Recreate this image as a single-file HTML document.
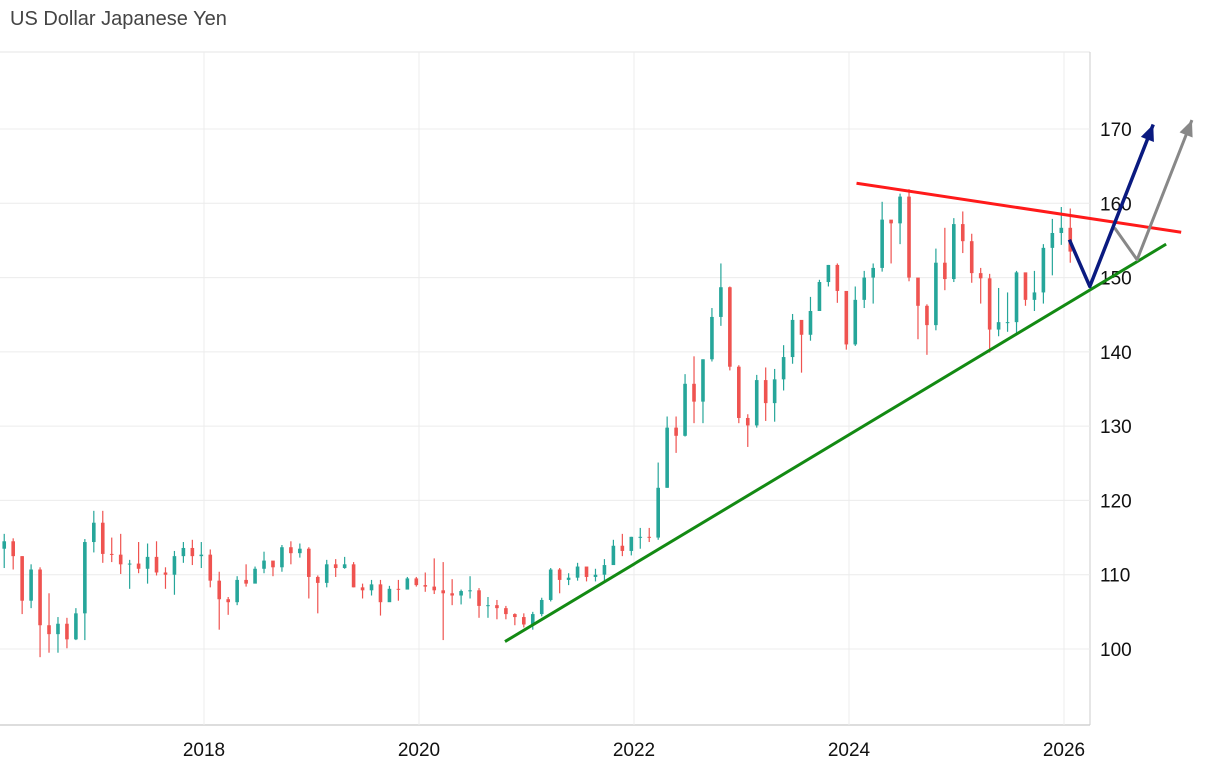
<!DOCTYPE html>
<html><head><meta charset="utf-8">
<style>
body{margin:0;background:#fff;font-family:"Liberation Sans",sans-serif;}
#title{position:absolute;left:10px;top:8px;font-size:20px;color:#444;}
svg{position:absolute;left:0;top:0;}
</style></head>
<body>
<div id="title">US Dollar Japanese Yen</div>
<svg id="chart" width="1220" height="772"></svg>
<script>
const startYear = 2016.1;
const closes = [
114.5,112.5,106.5,110.7,103.2,102.0,103.4,101.3,104.8,114.4,117.0,
112.8,112.7,111.4,111.5,110.8,112.4,110.3,110.0,112.5,113.6,112.5,112.7,
109.2,106.7,106.3,109.3,108.8,110.8,111.9,111.0,113.7,112.9,113.5,109.7,
108.9,111.4,110.9,111.4,108.3,107.9,108.7,106.3,108.1,108.0,109.5,108.6,
108.4,107.9,107.5,107.2,107.8,107.9,105.8,105.9,105.5,104.7,104.3,103.3,
104.7,106.6,110.7,109.3,109.6,111.1,109.7,110.0,111.3,113.9,113.2,115.1,
115.1,115.0,121.7,129.8,128.7,135.7,133.3,139.0,144.7,148.7,138.0,131.1,
130.1,136.2,133.1,136.3,139.3,144.3,142.3,145.5,149.4,151.7,148.2,141.0,
147.0,150.0,151.3,157.8,157.3,160.9,150.0,146.2,143.6,152.0,149.8,157.2,
154.9,150.6,149.9,143.0,144.0,144.0,150.7,147.0,148.0,154.0,156.0,156.7,
153.5];
const highs = [
115.5,114.9,112.5,111.4,111.0,107.5,104.3,104.2,105.5,114.8,118.6,
118.6,115.0,115.5,112.0,114.4,114.2,114.5,111.0,113.2,114.4,114.7,114.4,
113.4,110.4,107.0,109.8,111.4,111.1,113.1,111.8,114.0,114.5,114.2,113.7,
109.9,112.0,112.1,112.4,111.7,108.8,109.3,109.3,108.5,109.3,109.7,109.7,
110.3,112.2,111.7,109.4,108.0,109.8,108.2,107.0,106.6,105.8,104.8,104.8,
105.0,106.9,110.9,110.9,110.2,111.6,110.6,110.8,112.1,114.7,115.5,115.1,
116.3,116.3,125.1,131.3,131.3,137.0,139.4,139.0,145.9,151.9,148.8,138.2,
131.6,136.9,137.9,137.7,140.9,145.1,143.0,147.4,149.7,151.7,151.9,148.0,
148.8,150.9,151.9,160.2,157.7,161.3,161.9,149.4,146.4,153.9,156.7,158.0,
158.9,155.9,151.3,150.5,148.6,148.0,150.9,148.8,150.9,154.5,157.9,159.5,
159.3];
const lows = [
110.9,110.7,104.7,105.5,98.9,99.5,99.5,100.1,101.2,101.2,113.0,
111.6,111.7,110.1,108.1,110.2,108.8,109.9,108.1,107.3,111.6,111.3,110.9,
108.3,102.6,104.6,105.9,108.4,109.3,110.2,109.8,110.4,111.4,112.3,106.8,
104.8,108.3,109.7,110.8,108.3,106.8,107.2,104.5,106.5,106.5,108.3,108.4,
107.7,107.4,101.2,105.9,106.0,106.8,104.2,104.2,104.0,104.0,103.2,102.9,
102.6,104.4,106.4,107.5,108.6,109.2,109.1,109.1,109.1,111.4,112.5,112.6,
113.5,114.4,114.7,121.7,126.4,128.6,130.4,130.4,138.7,143.5,137.5,130.4,
127.2,129.8,130.7,130.6,134.8,138.4,137.2,141.5,145.9,148.8,146.6,140.3,
140.8,145.9,146.5,150.8,151.9,154.5,149.5,141.7,139.6,142.9,148.3,149.4,
153.3,149.3,146.5,139.9,142.1,142.7,142.5,146.2,145.5,146.5,150.3,154.4,
152.0];
const xTicks = [2018, 2020, 2022, 2024, 2026];
const yTicks = [100, 110, 120, 130, 140, 150, 160, 170];
const resistance = [[2024.07,162.7],[2027.09,156.1]];
const support = [[2020.80,101.0],[2026.95,154.5]];
const bluePath = [[2026.05,155.1],[2026.24,148.8],[2026.83,170.6]];
const grayPath = [[2026.47,156.7],[2026.68,152.4],[2027.19,171.2]];

const NS = "http://www.w3.org/2000/svg";
const svg = document.getElementById('chart');
const X = t => 204 + (t - 2018) * 107.5;
const Y = v => 129 + (170 - v) * (520/70);
function mk(tag, attrs, parent){const e=document.createElementNS(NS,tag);for(const k in attrs)e.setAttribute(k,attrs[k]);(parent||svg).appendChild(e);return e;}

const grid = mk('g',{});


mk('line',{x1:0,x2:1090,y1:52,y2:52,stroke:'#e6e6e6'},grid);
mk('line',{x1:0,x2:1090,y1:725,y2:725,stroke:'#bbb'},grid);
mk('line',{x1:1090,x2:1090,y1:52,y2:725,stroke:'#ccc'},grid);
yTicks.forEach(v=>{
  mk('line',{x1:0,x2:1090,y1:Y(v),y2:Y(v),stroke:'#ececec'},grid);
  const t=mk('text',{x:1100,y:Y(v)+7,'font-size':19,fill:'#111'});
  t.textContent=v;
  
  
});
xTicks.forEach(yr=>{
  mk('line',{x1:X(yr),x2:X(yr),y1:52,y2:725,stroke:'#ececec'},grid);
  const t=mk('text',{x:X(yr),y:756,'font-size':19,fill:'#111','text-anchor':'middle'});
  t.textContent=yr;
  
  
});

const cg = mk('g',{});


closes.forEach((c,i)=>{
  const o = i===0 ? 113.5 : closes[i-1];
  const t = startYear + i/12 + 1/24;
  const x = X(t);
  const col = c>=o ? '#26a69a' : '#ef5350';
  const g = mk('g',{},cg);
  
  
  mk('line',{x1:x,x2:x,y1:Y(highs[i]),y2:Y(lows[i]),stroke:col,'stroke-width':1.2},g);
  const top=Y(Math.max(o,c)), bot=Y(Math.min(o,c));
  mk('rect',{x:x-1.8,y:top,width:3.6,height:Math.max(1,bot-top),fill:col},g);
});

function line(pts,col,w,name){
  const p = mk('polyline',{points:pts.map(p=>X(p[0])+','+Y(p[1])).join(' '),fill:'none',stroke:col,'stroke-width':w,'stroke-linejoin':'round'});
  
  
}
function arrowHead(pts,col,name){
  const a=pts[pts.length-2], b=pts[pts.length-1];
  const x1=X(a[0]),y1=Y(a[1]),x2=X(b[0]),y2=Y(b[1]);
  const ang=Math.atan2(y2-y1,x2-x1), L=16, W=7;
  const bx=x2-L*Math.cos(ang), by=y2-L*Math.sin(ang);
  const px=-Math.sin(ang)*W, py=Math.cos(ang)*W;
  const h=mk('polygon',{points:`${x2},${y2} ${bx+px},${by+py} ${bx-px},${by-py}`,fill:col});
  
  
}
line(resistance,'#ff1a1a',3,'resistance-line');
line(support,'#138a13',3,'support-line');
line(grayPath,'#888',3,'gray-projection-arrow');
arrowHead(grayPath,'#888','gray-arrow-head');
line(bluePath,'#0a1a80',3.5,'blue-projection-arrow');
arrowHead(bluePath,'#0a1a80','blue-arrow-head');
</script>
</body></html>
